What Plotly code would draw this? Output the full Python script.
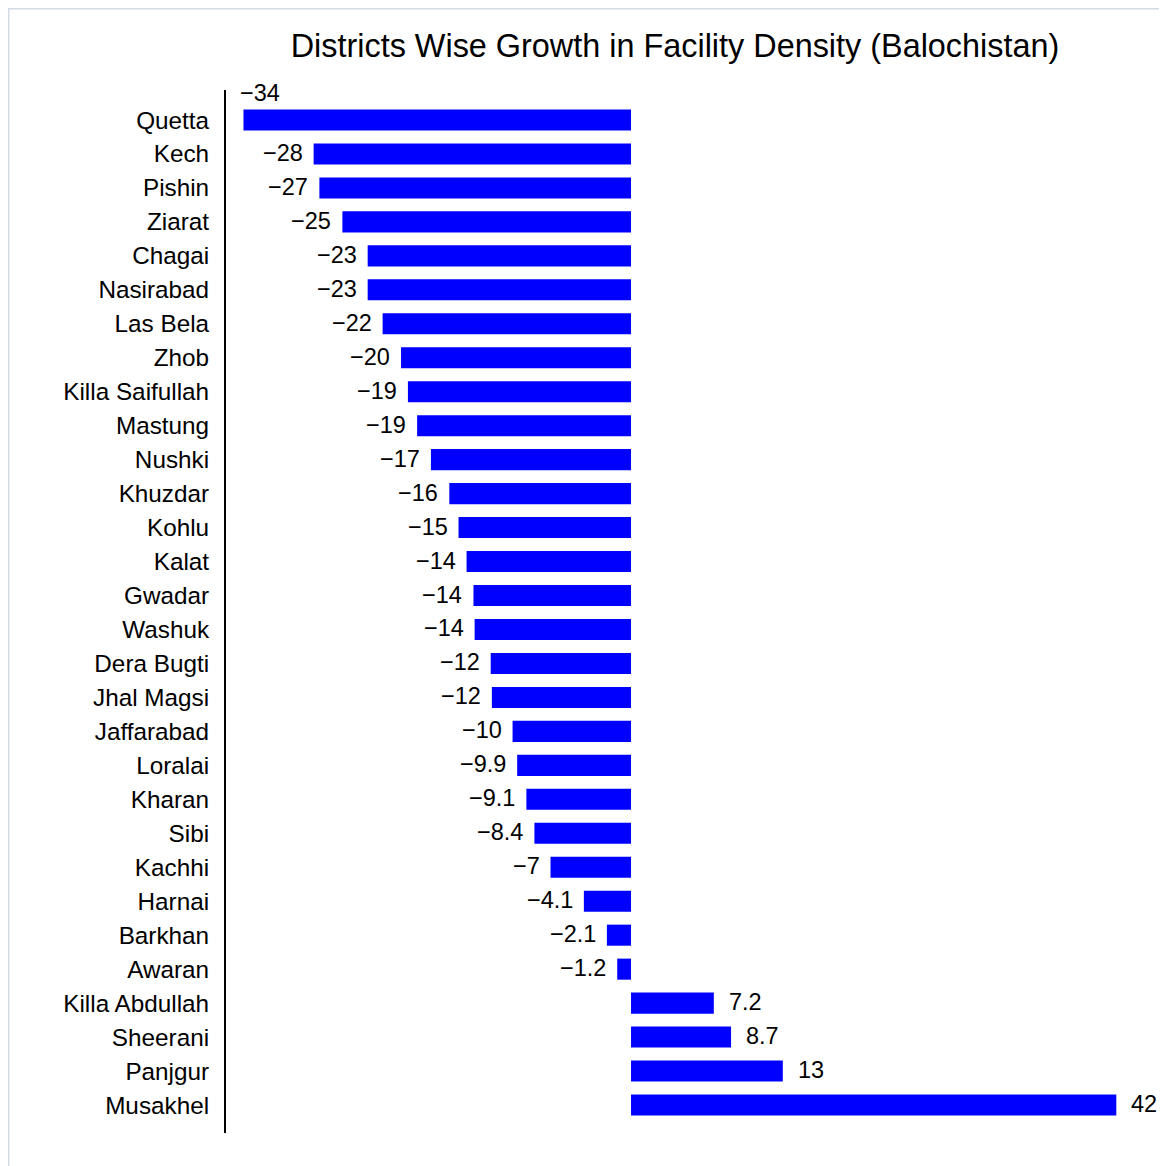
import plotly.graph_objects as go

districts = ["Quetta", "Kech", "Pishin", "Ziarat", "Chagai", "Nasirabad", "Las Bela", "Zhob",
             "Killa Saifullah", "Mastung", "Nushki", "Khuzdar", "Kohlu", "Kalat", "Gwadar",
             "Washuk", "Dera Bugti", "Jhal Magsi", "Jaffarabad", "Loralai", "Kharan", "Sibi",
             "Kachhi", "Harnai", "Barkhan", "Awaran", "Killa Abdullah", "Sheerani", "Panjgur",
             "Musakhel"]
growth = [-33.7, -27.6, -27.1, -25.1, -22.9, -22.9, -21.6, -20.0,
          -19.4, -18.6, -17.4, -15.8, -15.0, -14.3, -13.7,
          -13.6, -12.2, -12.1, -10.3, -9.9, -9.1, -8.4,
          -7.0, -4.1, -2.1, -1.2, 7.2, 8.7, 13.2,
          42.2]

title_text = "Districts Wise Growth in Facility Density (Balochistan)"

# page has an 8px body margin, so the figure is drawn 8px right/down
W, H = 1159, 1158
ml, mr, mt, mb = 218, 7, 82, 33
x_range = [-35.22, 46.0]
y_range = [29.824, -0.883]
FONT = "Liberation Sans, Arial, Helvetica, sans-serif"

plot_w = W - ml - mr
plot_h = H - mt - mb
px_per_unit = plot_w / (x_range[1] - x_range[0])


def fmt(v):
    s = f"{v:.2g}"
    return s.replace("-", "\u2212")


fig = go.Figure()
fig.add_trace(go.Bar(
    x=growth, y=districts, orientation="h",
    marker=dict(color="#0000ff", line=dict(width=0)),
    width=0.62, showlegend=False, hoverinfo="x+y",
))

lab_font = dict(size=23.5, color="black", family=FONT)
annotations = []
for d, v in zip(districts, growth):
    label = fmt(v)
    est_w = 13 * len(label) + 14
    if v < 0 and (v - x_range[0]) * px_per_unit < est_w:
        annotations.append(dict(x=v, y=d, xref="x", yref="y", text=label, showarrow=False,
                                xanchor="left", yanchor="middle", xshift=-5, yshift=27,
                                font=lab_font))
    elif v < 0:
        annotations.append(dict(x=v, y=d, xref="x", yref="y", text=label, showarrow=False,
                                xanchor="right", yanchor="middle", xshift=-9, yshift=1,
                                font=lab_font))
    else:
        annotations.append(dict(x=v, y=d, xref="x", yref="y", text=label, showarrow=False,
                                xanchor="left", yanchor="middle", xshift=13, yshift=1,
                                font=lab_font))

bx = (0.5 - ml) / plot_w
by = (H - mb - 0.5) / plot_h

fig.update_layout(
    width=W, height=H,
    margin=dict(l=ml, r=mr, t=mt, b=mb),
    paper_bgcolor="white", plot_bgcolor="white",
    font=dict(family=FONT, color="black"),
    title=dict(text=title_text, x=667 / W, xanchor="center", xref="container",
               y=1 - 38 / H, yanchor="middle", yref="container",
               font=dict(size=32.4, color="black", family=FONT)),
    xaxis=dict(range=x_range, visible=False, fixedrange=True),
    yaxis=dict(range=y_range, type="category", categoryorder="array", categoryarray=districts,
               showline=True, linecolor="black", linewidth=2, showgrid=False, zeroline=False,
               ticks="", ticklabelstandoff=10, tickfont=dict(size=24.3, color="black", family=FONT)),
    annotations=annotations,
    shapes=[dict(type="rect", xref="paper", yref="paper", x0=bx, x1=1.2, y0=-0.2, y1=by,
                 line=dict(color="#d3dce6", width=2), fillcolor="rgba(0,0,0,0)", layer="below")],
    bargap=0.38,
)

fig.write_html("out.html")
